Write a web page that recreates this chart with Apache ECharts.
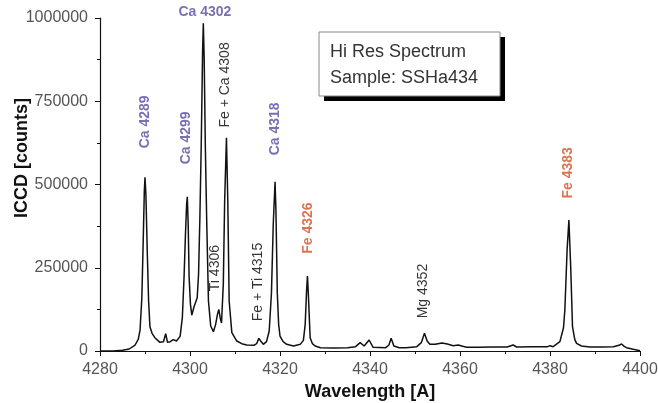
<!DOCTYPE html>
<html>
<head>
<meta charset="utf-8">
<script src="https://cdn.jsdelivr.net/npm/echarts@6/dist/echarts.min.js"></script>
<style>
  html, body { margin: 0; padding: 0; background: #fff; }
  #chart { width: 658px; height: 403px; }
</style>
</head>
<body>
<div id="chart"></div>
<script>
// spectrum
var specWave = [
  4280, 4283, 4285, 4286.5, 4287.8, 4288.5, 4288.9, 4289.3, 4289.6, 4289.85, 4290.0, 4290.2, 4290.5, 4290.8,
  4291.1, 4291.6, 4292.2, 4293.3, 4294.1, 4294.6, 4295.0, 4295.6, 4296.3, 4297.0, 4297.8, 4298.3, 4298.7,
  4299.0, 4299.25, 4299.4, 4299.6, 4299.8, 4300.1, 4300.4, 4300.9, 4301.6, 4301.9, 4302.2, 4302.5, 4302.8,
  4302.96, 4303.15, 4303.4, 4303.7, 4304.1, 4304.6, 4305.2, 4305.7, 4306.1, 4306.4, 4306.7, 4307.0, 4307.4,
  4307.7, 4308.1, 4308.4, 4308.7, 4309.3, 4310.4, 4311.5, 4312.6, 4314.2, 4314.8, 4315.3, 4315.7, 4316.3,
  4317.0, 4317.6, 4318.1, 4318.5, 4318.9, 4319.1, 4319.4, 4319.7, 4320.0, 4320.7, 4321.5, 4323.0, 4324.5,
  4325.2, 4325.6, 4325.9, 4326.1, 4326.3, 4326.7, 4327.2, 4327.8, 4329, 4332, 4335, 4336.8, 4337.8, 4338.7,
  4339.8, 4340.7, 4343.5, 4344.2, 4344.7, 4345.3, 4346.5, 4348, 4350.4, 4351.4, 4352.1, 4352.7, 4353.3,
  4354.5, 4356, 4357.2, 4358.5, 4359.6, 4360, 4360.6, 4361.5, 4364, 4367, 4370.5, 4371.8, 4372.6, 4376.3,
  4379.5, 4380, 4380.7, 4382.2, 4383.0, 4383.3, 4383.8, 4384.2, 4384.6, 4385.0, 4385.5, 4385.9, 4387,
  4388.9, 4391.5, 4394.1, 4395.3, 4395.9, 4396.5, 4397, 4398.5, 4400
];
var specCounts = [
  0, 0, 2000, 6000, 18000, 35000, 63000, 160000, 330000, 480000, 522000, 470000, 300000, 150000,
  73000, 52000, 40000, 26000, 28000, 52000, 26000, 28000, 34000, 30000, 44000, 100000, 230000,
  354000, 440000, 463000, 380000, 223000, 140000, 108000, 133000, 160000, 230000, 403000, 620000, 900000,
  984000, 880000, 620000, 400000, 150000, 75000, 58000, 80000, 110000, 125000, 100000, 84000, 200000,
  450000, 640000, 450000, 150000, 55000, 30000, 22000, 18000, 17000, 22000, 38000, 30000, 20000,
  28000, 60000, 174000, 380000, 508000, 420000, 174000, 80000, 45000, 28000, 20000, 15000, 20000,
  32000, 80000, 180000, 225000, 170000, 40000, 22000, 15000, 10000, 9000, 10000, 13000, 25000, 15000,
  33000, 11000, 10000, 18000, 38000, 15000, 10000, 10000, 13000, 25000, 53000, 30000, 20000,
  20000, 24000, 21000, 16000, 18000, 22000, 14000, 11000, 11000, 12000, 12000, 18000, 12000, 13000,
  13000, 16000, 13000, 28000, 70000, 123000, 303000, 393000, 253000, 73000, 35000, 23000, 15000,
  12000, 12000, 13000, 17000, 21000, 14000, 10000, 5000, 1000
];

// line labels: [wavelength, counts] where the label is centred
var caNames = ['Ca 4289', 'Ca 4299', 'Ca 4318'];
var caPos = [[4290, 688000], [4299.1, 640000], [4318.9, 667000]];
var caTopName = ['Ca 4302'];
var caTopPos = [[4303.3, 1018000]];
var feNames = ['Fe 4326', 'Fe 4383'];
var fePos = [[4326.2, 369000], [4384, 535000]];
var otherNames = ['Fe + Ca 4308', 'Ti 4306', 'Fe + Ti 4315', 'Mg 4352'];
var otherPos = [[4307.8, 799000], [4305.6, 249000], [4315.1, 207000], [4351.8, 180000]];

var xTicks = { min: 4280, max: 4400, step: 20 };
var yTicks = { min: 0, max: 1000000, step: 250000 };

var xTitle = 'Wavelength [A]';
var yTitle = 'ICCD [counts]';
var boxLines = ['Hi Res Spectrum', 'Sample: SSHa434'];

function pairs(xs, ys) {
  var out = [];
  for (var i = 0; i < xs.length; i++) out.push([xs[i], ys[i]]);
  return out;
}
function named(names, pos) {
  return names.map(function (n, i) { return { name: n, value: pos[i] }; });
}
function labelSeries(names, pos, color, weight, rotate) {
  return {
    type: 'scatter',
    symbolSize: 0,
    clip: false,
    silent: true,
    z: 5,
    data: named(names, pos),
    label: {
      show: true,
      position: 'inside',
      formatter: '{b}',
      rotate: rotate,
      color: color,
      fontFamily: 'Arial, "Liberation Sans", sans-serif',
      fontSize: 14,
      fontWeight: weight
    }
  };
}

var chart = echarts.init(document.getElementById('chart'));
var axisFont = 'Arial, "Liberation Sans", sans-serif';
var plain = function (v) { return String(v); };

var option = {
  animation: false,
  backgroundColor: '#fff',
  grid: { left: 100, right: 18, top: 18, bottom: 52, outerBoundsMode: 'none' },
  xAxis: {
    type: 'value',
    min: xTicks.min,
    max: xTicks.max,
    interval: xTicks.step,
    name: xTitle,
    nameLocation: 'middle',
    nameGap: 23,
    nameTextStyle: { fontFamily: axisFont, fontSize: 18, fontWeight: 'bold', color: '#111' },
    axisLine: { lineStyle: { color: '#111', width: 1.2 } },
    axisTick: { inside: false, length: 5, lineStyle: { color: '#111' } },
    minorTick: { show: true, splitNumber: 2, length: 3, lineStyle: { color: '#111' } },
    axisLabel: { fontFamily: axisFont, fontSize: 16, color: '#555', margin: 11, formatter: plain },
    splitLine: { show: false }
  },
  yAxis: {
    type: 'value',
    min: yTicks.min,
    max: yTicks.max,
    interval: yTicks.step,
    axisLine: { show: true, lineStyle: { color: '#111', width: 1.2 } },
    axisTick: { show: true, inside: false, length: 5, lineStyle: { color: '#111' } },
    minorTick: { show: true, splitNumber: 2, length: 3, lineStyle: { color: '#111' } },
    axisLabel: { fontFamily: axisFont, fontSize: 16, color: '#555', margin: 12, formatter: plain },
    splitLine: { show: false }
  },
  series: [
    {
      type: 'line',
      data: pairs(specWave, specCounts),
      showSymbol: false,
      silent: true,
      lineStyle: { color: '#111', width: 1.5 }
    },
    labelSeries(caNames, caPos, '#5a4b9e', 'bold', 90),
    labelSeries(caTopName, caTopPos, '#5a4b9e', 'bold', 0),
    labelSeries(feNames, fePos, '#d2502a', 'bold', 90),
    labelSeries(otherNames, otherPos, '#000', 'normal', 90)
  ],
  graphic: [
    {
      type: 'text', x: 22, y: 158, rotation: Math.PI / 2,
      style: { text: yTitle, font: 'bold 18px Arial, "Liberation Sans", sans-serif', fill: '#111', align: 'center', verticalAlign: 'middle' }
    },
    { type: 'rect', shape: { x: 324, y: 37, width: 181, height: 64 }, style: { fill: '#000' }, z: 10 },
    { type: 'rect', shape: { x: 319, y: 32, width: 181, height: 64 }, style: { fill: '#fff', stroke: '#888', lineWidth: 1 }, z: 11 },
    { type: 'text', x: 330, y: 52, style: { text: boxLines[0], font: '18px Arial, "Liberation Sans", sans-serif', fill: '#333', verticalAlign: 'middle' }, z: 12 },
    { type: 'text', x: 330, y: 78, style: { text: boxLines[1], font: '18px Arial, "Liberation Sans", sans-serif', fill: '#333', verticalAlign: 'middle' }, z: 12 }
  ]
};

chart.setOption(option);
</script>
</body>
</html>
